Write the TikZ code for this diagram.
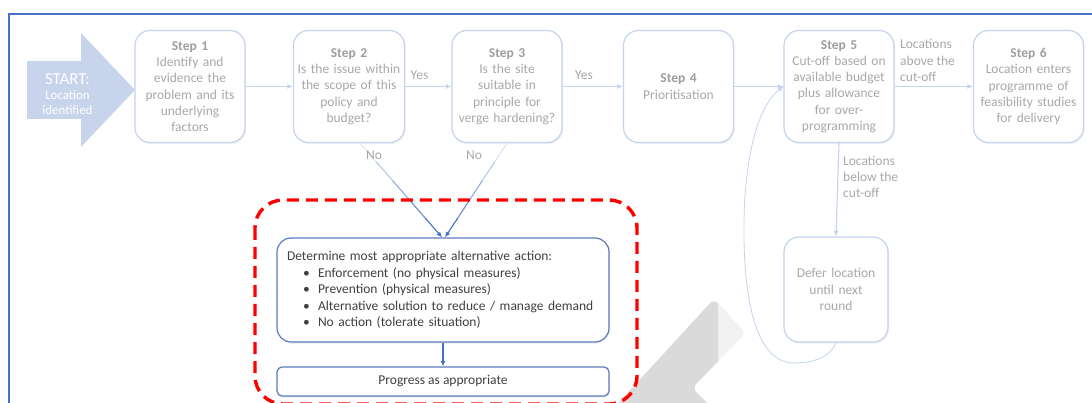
\documentclass[tikz,border=0pt]{standalone}
\usepackage{fontspec}
\setmainfont{Carlito}
\usetikzlibrary{arrows.meta,shadows,calc}
\definecolor{lb}{HTML}{C5D3EC}
\definecolor{lbfaint}{HTML}{DDE5F3}
\definecolor{lbtxt}{HTML}{A8A8A8}
\definecolor{steptxt}{HTML}{9E9E9E}
\definecolor{frameblue}{HTML}{4472C4}
\definecolor{detblue}{HTML}{5B7CBC}
\definecolor{dtxt}{HTML}{404040}
\definecolor{startfill}{HTML}{C7D4EB}
\definecolor{wmdark}{HTML}{DADADA}
\definecolor{wmlight}{HTML}{F2F2F2}
\begin{document}
\begin{tikzpicture}[x=1pt,y=-1pt,
  txt/.style={font=\fontsize{13.5}{16.3}\selectfont},
  stepbox/.style={txt, draw=lb, line width=1.2pt, fill=white, rounded corners=15pt,
    minimum width=110pt, minimum height=112pt, text width=106pt, align=center,
    inner sep=1pt, text=lbtxt,
    drop shadow={opacity=0.12, shadow xshift=1.2pt, shadow yshift=-1.6pt}},
  detbox/.style={font=\fontsize{13.5}{16.6}\selectfont, draw=detblue, line width=1.2pt, fill=white, text=dtxt,
    drop shadow={opacity=0.15, shadow xshift=1.2pt, shadow yshift=-1.6pt}},
  lbl/.style={txt, text=lbtxt, inner sep=0pt},
  conn/.style={draw=lb, line width=1.1pt, -{Latex[length=5.5pt,width=5pt]}},
  dconn/.style={draw=frameblue, line width=1.1pt, -{Latex[length=5.5pt,width=5pt]}},
  frameline/.style={draw=frameblue, line width=1.6pt},
  reddash/.style={draw=red, line width=3.4pt, dash pattern=on 12pt off 7pt, rounded corners=28pt}
]
\useasboundingbox (0,0) rectangle (1092,403);
\clip (0,0) rectangle (1092,403);

% frame
\draw[frameline] (9,410) -- (9,14) -- (1095,14);

% watermark fragment
\begin{scope}
\fill[wmlight, rounded corners=6pt] (610,412) -- (714,299) -- (746,333) -- (692,388) -- (716,412) -- cycle;
\clip (0,0) rectangle (718,412);
\fill[wmdark, rounded corners=6pt] (610,412) -- (714,299) -- (746,333) -- (692,388) -- (716,412) -- cycle;
\end{scope}

% START arrow
\fill[startfill] (27,61) -- (81,61) -- (81,33) -- (135,90) -- (81,147) -- (81,119) -- (27,119) -- cycle;
\node[txt, text=white, align=center, inner sep=0pt, font=\fontsize{12.9}{15}\selectfont] (start) at (67.5,94)
  {{\fontsize{16.8}{17}\selectfont START:}\\Location\\identified};

% steps
\node[stepbox] (s1) at (190,86.5) {\textcolor{steptxt}{\textbf{Step 1}}\\Identify and\\evidence the\\problem and its\\underlying\\factors};
\node[stepbox, minimum width=111pt] (s2) at (349,86.5) {\textcolor{steptxt}{\textbf{Step 2}}\\Is the issue within\\the scope of this\\policy and\\budget?};
\node[stepbox] (s3) at (507,86.5) {\textcolor{steptxt}{\textbf{Step 3}}\\Is the site\\suitable in\\principle for\\verge hardening?};
\node[stepbox] (s4) at (678.5,86.5) {\textcolor{steptxt}{\textbf{Step 4}}\\Prioritisation};
\node[stepbox] (s5) at (839,86.5) {\textcolor{steptxt}{\textbf{Step 5}}\\Cut-off based on\\available budget\\plus allowance\\for over-\\programming};
\node[stepbox] (s6) at (1028.5,86.5) {\textcolor{steptxt}{\textbf{Step 6}}\\Location enters\\programme of\\feasibility studies\\for delivery};
\node[stepbox, minimum width=104pt, minimum height=105pt, text width=100pt] (def) at (836,289.5) {Defer location\\until next\\round};

% horizontal connectors
\draw[conn] (s1) -- (s2);
\draw[conn] (s2) -- (s3);
\draw[conn] (s3) -- (s4);
\draw[conn] (s4) -- (s5);
\draw[conn] (s5) -- (s6);
\node[lbl] (yes1) at (419.5,75) {Yes};
\node[lbl] (yes2) at (584,75) {Yes};
\node[lbl, anchor=west, align=left] (above) at (900,60.5) {Locations\\above the\\cut-off};

% step 5 to defer
\draw[conn] (s5.south) -- (def.north);
\node[lbl, anchor=west, align=left] (below) at (843,177) {Locations\\below the\\cut-off};

% loop back from defer to step 5
\draw[draw=lb, line width=0.8pt, -{Latex[length=5.5pt,width=5pt]}]
  (def.south) .. controls (830,358) and (812,363) .. (793,363)
  .. controls (756,362) and (743,300) .. (744,222)
  .. controls (745,150) and (760,104) .. (s5.west);

% determine / progress boxes
\node[detbox, rounded corners=14pt, minimum width=332pt, minimum height=104pt, text width=312pt,
  inner sep=10pt, align=left] (det) at (443,290)
  {Determine most appropriate alternative action:\\
   \hspace*{16pt}\makebox[15pt][l]{•}Enforcement (no physical measures)\\
   \hspace*{16pt}\makebox[15pt][l]{•}Prevention (physical measures)\\
   \hspace*{16pt}\makebox[15pt][l]{•}Alternative solution to reduce / manage demand\\
   \hspace*{16pt}\makebox[15pt][l]{•}No action (tolerate situation)};
\node[detbox, rounded corners=5pt, minimum width=332pt, minimum height=29pt] (prog) at (443,381.5)
  {Progress as appropriate};
\draw[dconn] (det) -- (prog);

% "No" connectors with fading colour
\coordinate (n2s) at ([xshift=11pt]s2.south);
\coordinate (n2e) at ([xshift=-1pt]det.north);
\coordinate (n3s) at (s3.south);
\coordinate (n3e) at ([xshift=2pt]det.north);
\foreach \a/\b in {n2s/n2e, n3s/n3e}{
  \foreach \i in {0,...,4}{
    \pgfmathtruncatemacro\p{\i*25}
    \pgfmathsetmacro\fa{\i/5}
    \pgfmathsetmacro\fb{(\i+1)/5+0.01}
    \ifnum\i<4
      \draw[draw=frameblue!\p!lbfaint, line width=1.1pt] ($(\a)!\fa!(\b)$) -- ($(\a)!\fb!(\b)$);
    \else
      \draw[draw=frameblue!\p!lbfaint, line width=1.1pt, -{Latex[length=5.5pt,width=5pt]}] ($(\a)!\fa!(\b)$) -- (\b);
    \fi
  }
}
\node[lbl] (no1) at (374,155) {No};
\node[lbl] (no2) at (474,155) {No};

% red dashed outline
\draw[reddash] (255,200) rectangle (637,404);
\end{tikzpicture}
\end{document}
